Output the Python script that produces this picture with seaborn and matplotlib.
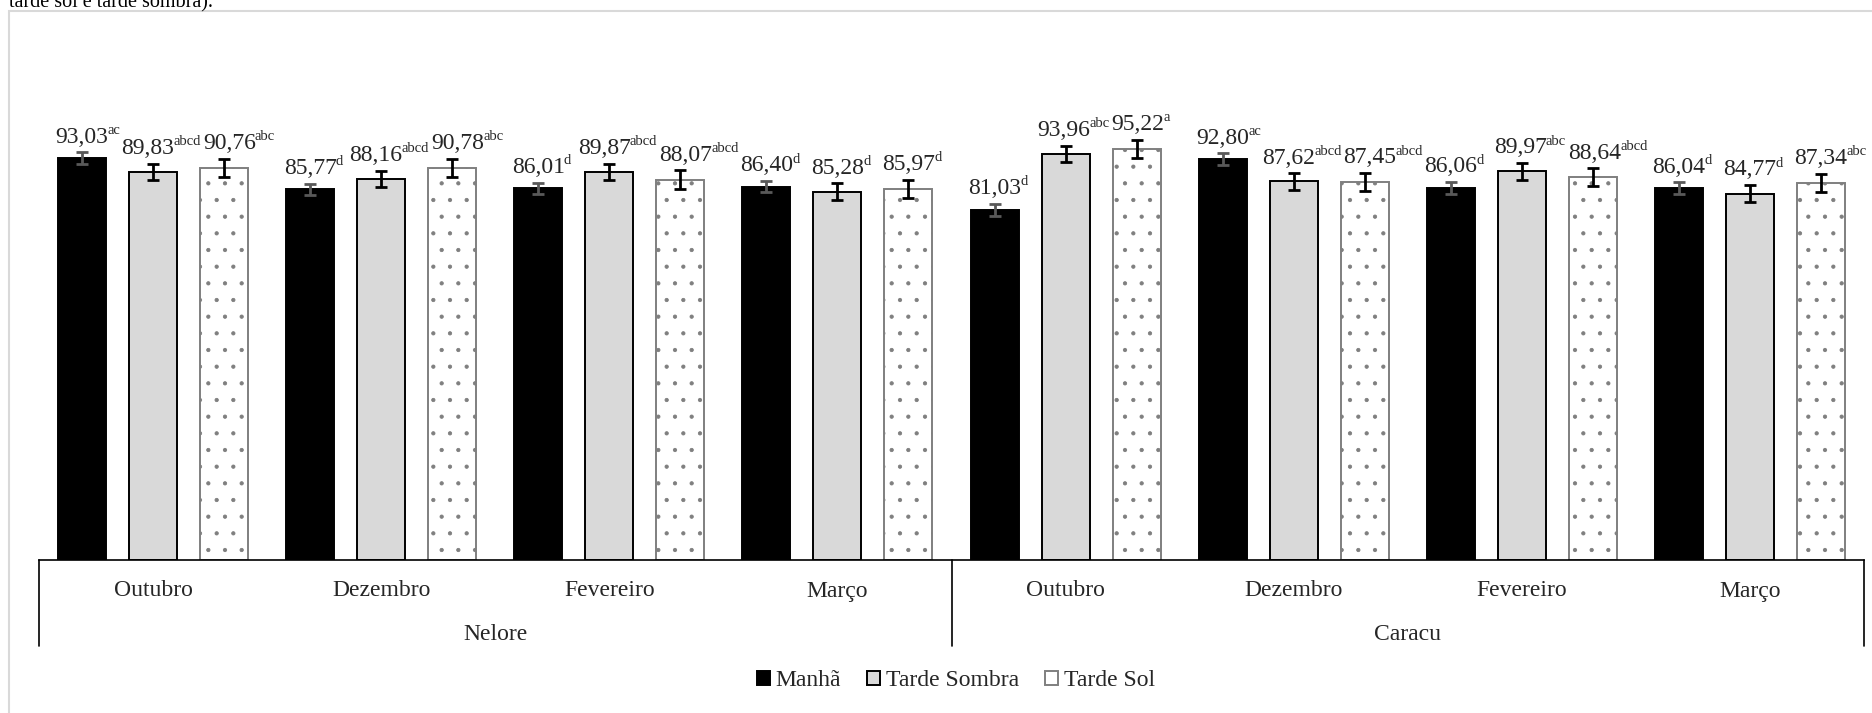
import matplotlib
matplotlib.use("Agg")
import matplotlib.pyplot as plt
import matplotlib.transforms as mtransforms
from matplotlib.patches import Patch, Rectangle
import pandas as pd
import seaborn as sns

# ---- data -------------------------------------------------------------
racas = ["Nelore", "Caracu"]
meses = ["Outubro", "Dezembro", "Fevereiro", "Março"]
periodos = ["Manhã", "Tarde Sombra", "Tarde Sol"]

# means, ordered Nelore (Out, Dez, Fev, Mar) then Caracu (Out, Dez, Fev, Mar)
manha = [93.03, 85.77, 86.01, 86.40, 81.03, 92.80, 86.06, 86.04]
tarde_sombra = [89.83, 88.16, 89.87, 85.28, 93.96, 87.62, 89.97, 84.77]
tarde_sol = [90.76, 90.78, 88.07, 85.97, 95.22, 87.45, 88.64, 87.34]

# standard errors
erro_manha = [1.3, 1.3, 1.3, 1.3, 1.4, 1.3, 1.4, 1.4]
erro_sombra = [1.9, 1.9, 1.9, 1.9, 1.9, 1.9, 1.9, 2.0]
erro_sol = [2.1, 2.1, 2.1, 2.1, 2.1, 2.1, 2.0, 2.1]

# significance letters
letras_manha = ["ac", "d", "d", "d", "d", "ac", "d", "d"]
letras_sombra = ["abcd", "abcd", "abcd", "d", "abc", "abcd", "abc", "d"]
letras_sol = ["abc", "abc", "abcd", "d", "a", "abcd", "abcd", "abc"]

legenda_topo = "tarde sol e tarde sombra)."

# ---- tidy table -------------------------------------------------------
grupos = [f"{r} {m}" for r in racas for m in meses]
series = [manha, tarde_sombra, tarde_sol]
erros = [erro_manha, erro_sombra, erro_sol]
letras = [letras_manha, letras_sombra, letras_sol]

df = pd.DataFrame(
    [(g, p, v) for p, vals in zip(periodos, series) for g, v in zip(grupos, vals)],
    columns=["grupo", "periodo", "valor"],
)

# ---- style ------------------------------------------------------------
sns.set_theme(style="white")
plt.rcParams["font.family"] = ["Liberation Serif", "DejaVu Serif"]
plt.rcParams["hatch.linewidth"] = 0.6
plt.rcParams["hatch.color"] = "black"

W, H, DPI = 1872, 713, 100
fig = plt.figure(figsize=(W / DPI, H / DPI), dpi=DPI)
fig.patch.set_facecolor("white")

# chart frame (continues past the right and bottom edges)
fig.patches.append(Rectangle((9 / W, -0.2), 2.0, 1 - 11 / H + 0.2,
                             transform=fig.transFigure, fill=False,
                             edgecolor="#d9d9d9", linewidth=1.5, zorder=0))
fig.text(9 / W, 1 - 7 / H, legenda_topo, ha="left", va="baseline",
         fontsize=14.5, color="black")

ax_h = 120 * 4.32
ax = fig.add_axes([39 / W, 153 / H, 1825 / W, ax_h / H])
ax.set_facecolor("none")

cores = ["black", "#d9d9d9", "white"]
bordas = ["black", "black", "#7f7f7f"]
hachuras = [None, None, "."]

sns.barplot(data=df, x="grupo", y="valor", hue="periodo", order=grupos,
            hue_order=periodos, palette=cores, saturation=1, width=0.934,
            gap=0.324, errorbar=None, legend=False, ax=ax)

cores_erro = ["#595959", "black", "black"]
rotulos = []  # (x, number annotation, superscript annotation)
for cont, vals, errs, lets, ec, hatch, ecol in zip(
        ax.containers, series, erros, letras, bordas, hachuras, cores_erro):
    xs = []
    for bar in cont:
        bar.set_edgecolor(ec)
        bar.set_linewidth(1.4)
        if hatch:
            bar.set_hatch(hatch)
        xs.append(bar.get_x() + bar.get_width() / 2)
    ax.errorbar(xs, vals, yerr=errs, fmt="none", ecolor=ecol,
                elinewidth=2.0, capsize=4.3, capthick=2.0, zorder=3)
    for x, v, e, l in zip(xs, vals, errs, lets):
        num = ax.annotate(f"{v:.2f}".replace(".", ","), xy=(x, v + e),
                          xytext=(0, 7), textcoords="offset points",
                          ha="center", va="baseline", fontsize=17)
        sup = ax.annotate(l, xy=(1, 0), xycoords=num, xytext=(-0.6, 10.0),
                          textcoords="offset points", ha="left",
                          va="baseline", fontsize=10.5)
        rotulos.append((x, num, sup))

ax.set_ylim(0, 120)
ax.set_xlim(-0.5, len(grupos) - 0.5)
ax.set_xticks([])
ax.set_yticks([])
ax.set_xlabel("")
ax.set_ylabel("")
for s in ["top", "left", "right"]:
    ax.spines[s].set_visible(False)
ax.spines["bottom"].set_color("black")
ax.spines["bottom"].set_linewidth(1.2)

# two-level category axis
tr = mtransforms.blended_transform_factory(ax.transData, ax.transAxes)
fundo = -86 / ax_h
for xb in [-0.5, len(meses) - 0.5, len(grupos) - 0.5]:
    ax.plot([xb, xb], [0, fundo], transform=tr, color="black", lw=1.2,
            clip_on=False)
for i, g in enumerate(grupos):
    ax.text(i, -31 / ax_h, meses[i % len(meses)], transform=tr,
            ha="center", va="center", fontsize=17)
for j, r in enumerate(racas):
    xc = j * len(meses) + (len(meses) - 1) / 2
    ax.text(xc, -74 / ax_h, r, transform=tr, ha="center", va="center",
            fontsize=17)

handles = [Patch(facecolor=c, edgecolor=e, linewidth=1.4)
           for c, e in zip(cores, bordas)]
fig.legend(handles, periodos, loc="center", bbox_to_anchor=(956 / W, 1 - 681 / H),
           ncol=3, frameon=False, fontsize=17, handlelength=0.55,
           handleheight=0.55, handletextpad=0.25, columnspacing=1.1)

# push apart neighbouring value labels that collide
fig.canvas.draw()
renderer = fig.canvas.get_renderer()
rotulos.sort(key=lambda t: t[0])
ext = []
for _, num, sup in rotulos:
    a = num.get_window_extent(renderer)
    b = sup.get_window_extent(renderer)
    ext.append([min(a.x0, b.x0), max(a.x1, b.x1), min(a.y0, b.y0), max(a.y1, b.y1)])
shift = [0.0] * len(rotulos)
for i in range(1, len(rotulos)):
    p, c = ext[i - 1], ext[i]
    if c[0] < p[1] and c[2] < p[3] and p[2] < c[3]:
        ov = p[1] - c[0] + 2
        shift[i - 1] -= ov / 2
        shift[i] += ov / 2
        p[0] -= ov / 2
        p[1] -= ov / 2
        c[0] += ov / 2
        c[1] += ov / 2
for (x, num, sup), dx in zip(rotulos, shift):
    num.xyann = (dx * 72 / DPI, 7)

fig.savefig("out.png", dpi=DPI, facecolor="white")
